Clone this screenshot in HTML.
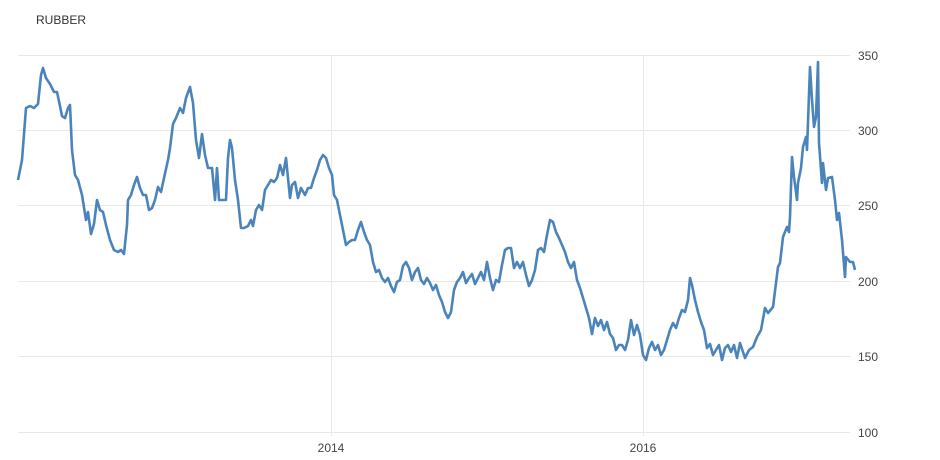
<!DOCTYPE html>
<html><head><meta charset="utf-8"><style>
body{margin:0;background:#fff;}
svg{display:block;font-family:"Liberation Sans",sans-serif;}
</style></head><body>
<svg width="940" height="460" viewBox="0 0 940 460">
<text x="36" y="24" font-size="12" fill="#333">RUBBER</text>
<g stroke="#e8e8e8" stroke-width="1">
<line x1="18" y1="55.5" x2="850" y2="55.5"/>
<line x1="18" y1="130.5" x2="850" y2="130.5"/>
<line x1="18" y1="205.5" x2="850" y2="205.5"/>
<line x1="18" y1="281.5" x2="850" y2="281.5"/>
<line x1="18" y1="356.5" x2="850" y2="356.5"/>
<line x1="18" y1="432.5" x2="850" y2="432.5"/>
<line x1="331.5" y1="55" x2="331.5" y2="436"/>
<line x1="643.5" y1="55" x2="643.5" y2="436"/>
</g>
<g font-size="12" fill="#444">
<text x="858" y="60">350</text>
<text x="858" y="135">300</text>
<text x="858" y="210">250</text>
<text x="858" y="286">200</text>
<text x="858" y="361">150</text>
<text x="858" y="437">100</text>
<text x="331" y="452" text-anchor="middle">2014</text>
<text x="643" y="452" text-anchor="middle">2016</text>
</g>
<polyline fill="none" stroke="#4a84ba" stroke-width="2.6" stroke-linejoin="round" points="18,180 22,160 26,108 30,106 34,108 38,104 41,75 43,68 46,78 50,84 54,92 57,92 60,106 62,116 65,118 68,108 70,105 72,150 75,175 78,180 82,195 86,220 88,212 91,234 94,224 97,200 100,210 103,212 106,225 110,240 114,250 118,252 121,250 124,254 127,225 128,200 131,195 134,185 137,177 140,188 143,195 146,195 149,210 152,208 155,200 158,187 161,192 164,178 168,160 170,148 173,124 176,118 180,108 183,113 186,98 190,87 193,103 196,140 199,158 202,134 205,155 208,168 212,168 215,200 217,168 219,200 222,200 224,200 226,200 228,158 230,140 232,148 235,180 238,200 241,228 244,228 248,226 251,220 253,226 256,210 259,205 262,210 265,190 268,185 271,180 274,182 277,178 280,165 283,175 286,158 290,198 292,185 295,182 298,198 301,188 305,195 308,188 311,188 314,178 317,170 320,160 323,155 326,158 329,168 332,175 334,195 337,200 340,215 343,230 346,245 349,242 352,240 355,240 358,230 361,222 364,232 367,240 370,245 373,262 376,272 379,270 382,278 385,282 388,278 391,286 394,292 397,282 400,280 403,266 406,262 409,268 412,280 415,272 418,268 421,280 424,284 427,278 430,283 433,290 436,285 439,295 442,302 445,312 448,318 451,312 454,290 457,282 460,278 463,272 466,283 469,278 472,274 475,284 478,278 481,272 484,280 487,262 490,278 493,290 496,280 499,282 502,265 505,250 508,248 511,248 514,268 517,262 520,268 523,262 526,275 529,286 532,280 535,270 538,250 541,248 544,252 547,235 550,220 553,222 556,232 559,238 562,245 565,252 568,262 571,268 574,262 577,280 580,288 583,298 586,308 589,318 592,334 595,318 598,326 601,320 604,330 607,322 610,334 613,338 616,350 619,345 622,345 625,350 628,340 631,320 634,335 637,325 640,335 643,355 646,360 649,348 652,342 655,350 658,345 661,355 664,350 667,340 670,330 673,323 676,328 679,318 682,310 685,312 688,300 690,278 692,285 695,300 698,312 701,322 704,330 707,348 710,344 713,355 716,350 719,345 722,360 725,348 728,345 731,352 734,345 737,358 740,343 745,358 749,350 753,347 757,337 761,330 765,308 768,313 773,307 776,283 778,267 780,263 783,237 787,227 789,232 790,217 792,157 794,177 797,200 798,183 801,168 803,147 806,137 807,150 810,67 812,100 814,127 816,117 818,62 819,143 822,183 823,163 826,190 828,178 832,177 835,200 837,220 839,213 842,240 845,277 846,257 850,262 853,262 855,270"/>
</svg>
</body></html>
